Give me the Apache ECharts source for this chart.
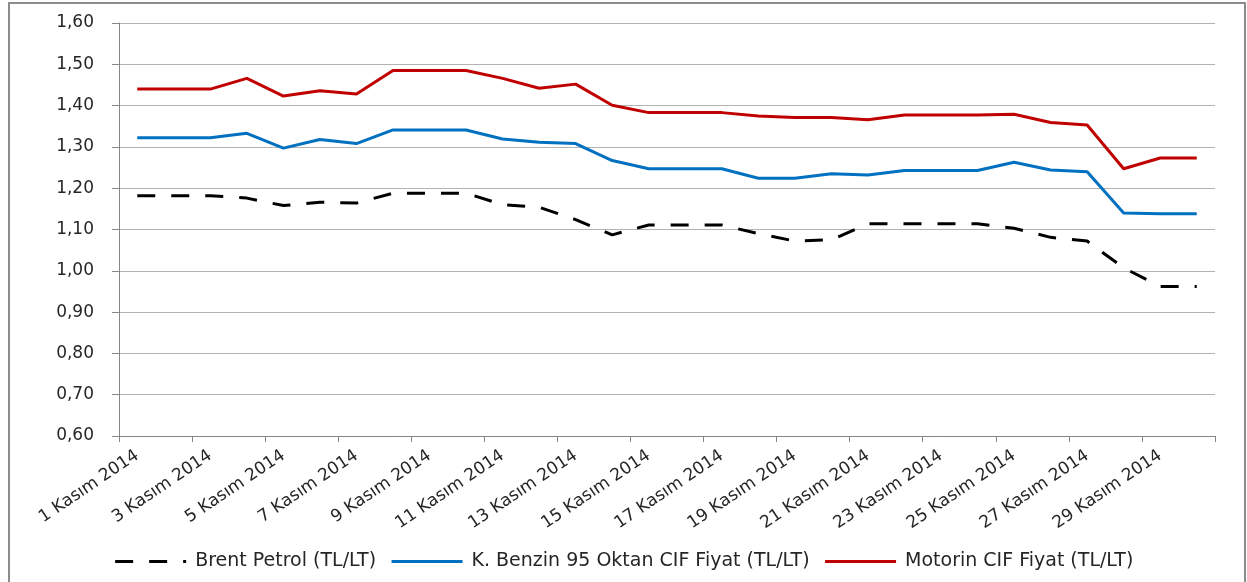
<!DOCTYPE html>
<html>
<head>
<meta charset="utf-8">
<script src="https://cdn.jsdelivr.net/npm/echarts@6/dist/echarts.min.js"></script>
<style>
html,body{margin:0;padding:0;background:#fff;}
#main{width:1247px;height:582px;}
</style>
</head>
<body>
<div id="main"></div>
<script>
// Kasım 2014 günlük fiyatlar (TL/LT)
var gunler = ['1 Kasım 2014','2 Kasım 2014','3 Kasım 2014','4 Kasım 2014','5 Kasım 2014',
	'6 Kasım 2014','7 Kasım 2014','8 Kasım 2014','9 Kasım 2014','10 Kasım 2014',
	'11 Kasım 2014','12 Kasım 2014','13 Kasım 2014','14 Kasım 2014','15 Kasım 2014',
	'16 Kasım 2014','17 Kasım 2014','18 Kasım 2014','19 Kasım 2014','20 Kasım 2014',
	'21 Kasım 2014','22 Kasım 2014','23 Kasım 2014','24 Kasım 2014','25 Kasım 2014',
	'26 Kasım 2014','27 Kasım 2014','28 Kasım 2014','29 Kasım 2014','30 Kasım 2014'];
var seriIsimleri = ['Brent Petrol (TL/LT)', 'K. Benzin 95 Oktan CIF Fiyat (TL/LT)', 'Motorin CIF Fiyat (TL/LT)'];
var brent = [1.182,1.182,1.182,1.176,1.158,1.166,1.164,1.188,1.188,1.188,
	1.160,1.154,1.124,1.087,1.111,1.111,1.111,1.090,1.072,1.075,
	1.114,1.114,1.114,1.114,1.103,1.081,1.072,1.007,0.962,0.962];
var benzin = [1.322,1.322,1.322,1.333,1.297,1.318,1.308,1.341,1.341,1.341,
	1.319,1.311,1.308,1.267,1.247,1.247,1.247,1.224,1.224,1.235,
	1.232,1.243,1.243,1.243,1.263,1.244,1.240,1.140,1.138,1.138];
var motorin = [1.440,1.440,1.440,1.466,1.423,1.436,1.428,1.485,1.485,1.485,
	1.466,1.442,1.452,1.401,1.383,1.383,1.383,1.375,1.371,1.371,
	1.366,1.377,1.377,1.377,1.379,1.359,1.353,1.247,1.273,1.273];
var yMin = 0.6, yMax = 1.6, yAdim = 0.1;

var yazi = 'DejaVu Sans';
var option = {
	backgroundColor: '#fff',
	animation: false,
	textStyle: {fontFamily: yazi},
	graphic: [{
		type: 'rect',
		shape: {x: 9, y: 3, width: 1236, height: 640},
		style: {fill: 'none', stroke: '#8c8c8c', lineWidth: 2},
		silent: true
	}],
	grid: {left: 119, right: 32, top: 23, bottom: 146},
	legend: {
		bottom: 6,
		left: 'center',
		itemWidth: 71,
		itemHeight: 20,
		itemGap: 14,
		itemStyle: {opacity: 0},
		lineStyle: {width: 3},
		textStyle: {fontFamily: yazi, fontSize: 19, color: '#262626', padding: [0, 0, 0, 4]},
		data: seriIsimleri
	},
	xAxis: {
		type: 'category',
		boundaryGap: true,
		data: gunler,
		axisLine: {lineStyle: {color: '#868686', width: 1}},
		axisTick: {show: true, interval: 1, length: 6, lineStyle: {color: '#868686'}},
		axisLabel: {interval: 1, rotate: 34, margin: 18, fontFamily: yazi, fontSize: 17, color: '#262626'},
		splitLine: {show: false}
	},
	yAxis: {
		type: 'value',
		min: yMin,
		max: yMax,
		interval: yAdim,
		axisLine: {show: true, lineStyle: {color: '#868686', width: 1}},
		axisTick: {show: true, length: 7, lineStyle: {color: '#868686'}},
		axisLabel: {
			margin: 25,
			fontFamily: yazi,
			fontSize: 17,
			color: '#262626',
			formatter: function(v){ return v.toFixed(2).replace('.', ','); }
		},
		splitLine: {lineStyle: {color: '#b3b3b3', width: 1}}
	},
	series: [
		{
			name: seriIsimleri[0],
			type: 'line',
			data: brent,
			symbol: 'none',
			lineStyle: {color: '#000000', width: 3, type: [18, 16]},
			itemStyle: {color: '#000000'}
		},
		{
			name: seriIsimleri[1],
			type: 'line',
			data: benzin,
			symbol: 'none',
			lineStyle: {color: '#0070c0', width: 3},
			itemStyle: {color: '#0070c0'}
		},
		{
			name: seriIsimleri[2],
			type: 'line',
			data: motorin,
			symbol: 'none',
			lineStyle: {color: '#c00000', width: 3},
			itemStyle: {color: '#c00000'}
		}
	]
};
echarts.init(document.getElementById('main')).setOption(option);
</script>
</body>
</html>
